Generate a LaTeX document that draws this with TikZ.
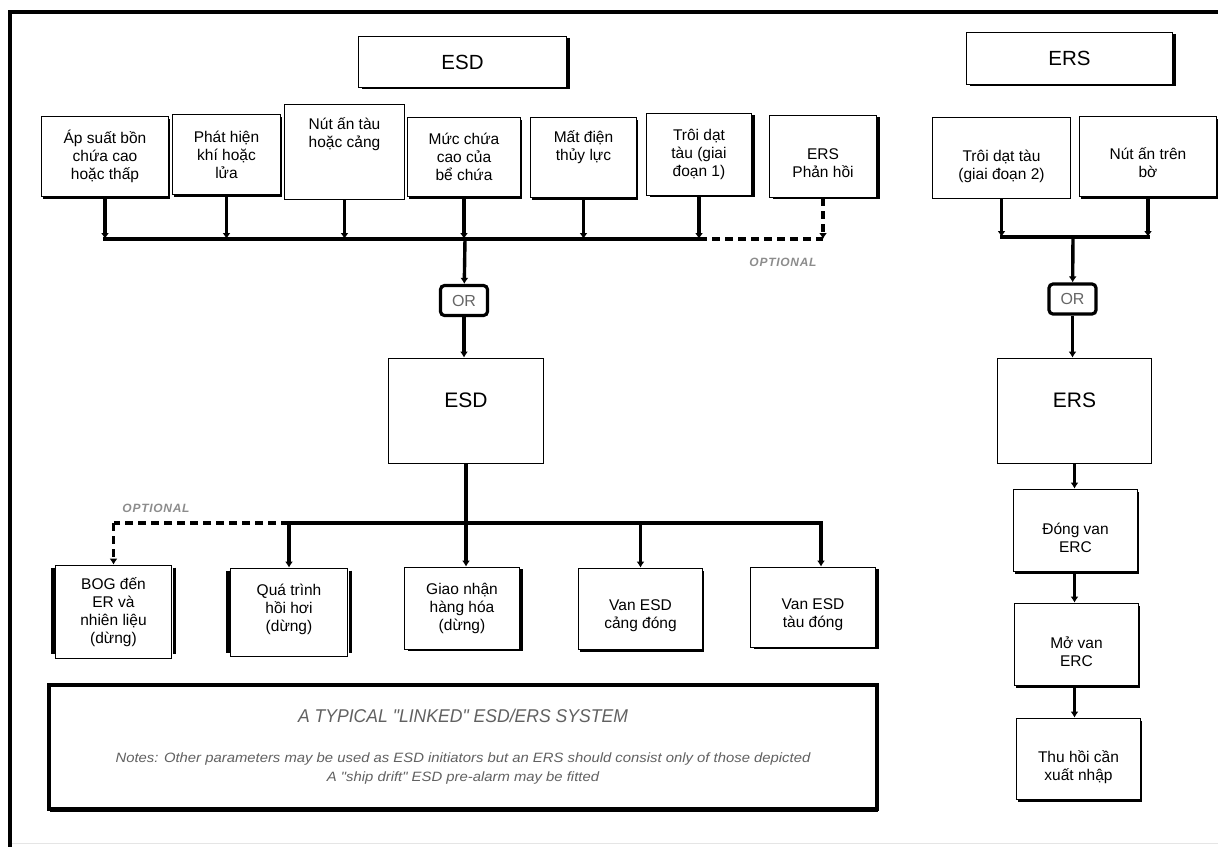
\documentclass[tikz,border=0pt]{standalone}
\usepackage{fontspec}
\setmainfont{Liberation Sans}
\usetikzlibrary{arrows.meta,shadows}
\newcommand\tb[4]{\parbox[c][#2pt][c]{#1pt}{\centering\vspace*{#3pt}#4\par}}
\tikzset{
  bx/.style={draw, line width=1.8pt, fill=white, inner sep=0pt, font=\fontsize{15.5}{18}\selectfont},
  big/.style={font=\fontsize{21}{25}\selectfont},
  shb/.style={drop shadow={shadow xshift=1.2pt, shadow yshift=-2.8pt, fill=black, opacity=1}},
  shr/.style={drop shadow={shadow xshift=3pt, shadow yshift=-1.6pt, fill=black, opacity=1}},
  ln/.style={line width=3.4pt, line cap=rect},
  tip/.style={-{Latex[length=6pt,width=8pt]}},
  arr/.style={line width=3.4pt, tip},
  dsh/.style={line width=3.4pt, dash pattern=on 8pt off 5pt},
  orb/.style={draw, line width=3.2pt, rounded corners=4pt, fill=white, inner sep=0pt,
    minimum width=47pt, minimum height=30pt, text=black!60, font=\fontsize{16}{16}\selectfont},
  opt/.style={text=black!45, font=\fontsize{12}{12}\selectfont\bfseries\itshape\addfontfeature{LetterSpace=6}},
  sidebar/.style={line width=3.2pt},
}
\begin{document}
\begin{tikzpicture}[x=1pt, y=-1pt]
\useasboundingbox (0,0) rectangle (1218,847);
% frame
\draw[line width=3.6pt] (1218,12) -- (10,12) -- (10,847);
\draw[black!10, line width=1pt] (12,843) -- (1218,843);

% titles
\node[bx, shr, big] (tesd) at (462.5,62) {\tb{208}{51}{0}{\fontsize{20.5}{24}\selectfont ESD}};
\node[bx, shr, big] (ters) at (1069.5,58.5) {\tb{206}{52}{0}{\fontsize{20.5}{24}\selectfont ERS}};

% ESD initiators
\node[bx, shb] (a1) at (105,156.5) {\tb{127}{80}{0}{Áp suất bồn\\chứa cao\\hoặc thấp}};
\node[bx, shb] (a2) at (226.5,154.5) {\tb{108}{80}{0}{Phát hiện\\khí hoặc\\lửa}};
\node[bx] (a3) at (344.5,152) {\tb{120}{95}{-36}{Nút ấn tàu\\hoặc cảng}};
\node[bx, shb] (a4) at (464,157) {\tb{113}{79}{0}{Mức chứa\\cao của\\bể chứa}};
\node[bx, shb] (a5) at (583.5,157.5) {\tb{106}{80}{-20}{Mất điện\\thủy lực}};
\node[bx, shr] (a6) at (699,154.5) {\tb{105}{82}{0}{Trôi dạt\\tàu (giai\\đoạn 1)}};
\node[bx, shr] (a7) at (823,156.5) {\tb{107}{82}{14}{ERS\\Phản hồi}};

% ERS initiators
\node[bx] (r1) at (1001.5,158) {\tb{138}{81}{16}{Trôi dạt tàu\\(giai đoạn 2)}};
\node[bx, shb] (r2) at (1148,156.5) {\tb{137}{80}{12}{Nút ấn trên\\bờ}};

% OR gates
\node[orb] (or1) at (464,300.5) {OR};
\node[orb] (or2) at (1072.5,299) {OR};

% main boxes
\node[bx, big] (esd) at (466,411) {\tb{155}{105}{-22}{ESD}};
\node[bx, big] (ers) at (1074.5,411) {\tb{154}{105}{-22}{ERS}};

% ERS actions
\node[bx, shb] (e1) at (1075.5,530.5) {\tb{124}{82}{14}{Đóng van\\ERC}};
\node[bx, shb] (e2) at (1076.5,644.5) {\tb{124}{82}{14}{Mở van\\ERC}};
\node[bx, shb] (e3) at (1078.5,759) {\tb{124}{81}{16}{Thu hồi cần\\xuất nhập}};

% ESD actions
\node[bx] (b1) at (113.5,612) {\tb{116}{93}{0}{BOG đến\\ER và\\nhiên liệu\\(dừng)}};
\node[bx] (b2) at (289,612.5) {\tb{117}{88}{-6}{Quá trình\\hồi hơi\\(dừng)}};
\node[bx, shr] (b3) at (462,608.5) {\tb{115}{82}{0}{Giao nhận\\hàng hóa\\(dừng)}};
\node[bx, shb] (b4) at (640.5,609) {\tb{124}{81}{14}{Van ESD\\cảng đóng}};
\node[bx, shr] (b5) at (813,607.5) {\tb{125}{80}{14}{Van ESD\\tàu đóng}};

\draw[sidebar] ([xshift=-1.6pt,yshift=-3pt]b1.north west) -- ([xshift=-1.6pt,yshift=5pt]b1.south west);
\draw[sidebar] ([xshift=1.8pt,yshift=-3pt]b1.north east) -- ([xshift=1.8pt,yshift=5pt]b1.south east);
\draw[sidebar] ([xshift=-1.6pt,yshift=-3pt]b2.north west) -- ([xshift=-1.6pt,yshift=4pt]b2.south west);
\draw[sidebar] ([xshift=1.8pt,yshift=-3pt]b2.north east) -- ([xshift=1.8pt,yshift=4pt]b2.south east);

% notes
\node[draw, line width=3.2pt, shb, fill=white, minimum width=828pt, minimum height=124pt,
  align=center, inner sep=0pt, text=black!62,
  font=\fontsize{13.5}{19}\selectfont\itshape\addfontfeature{Ligatures=TeXOff,FakeStretch=1.1}] (nt) at (463,747)
  {{\fontsize{18.5}{19}\selectfont\addfontfeature{FakeStretch=0.95}A TYPICAL "LINKED" ESD/ERS SYSTEM}\\[21pt]
   Notes: Other parameters may be used as ESD initiators but an ERS should consist only of those depicted\\
   A "ship drift" ESD pre-alarm may be fitted};

% top bus (ESD)
\coordinate (bt) at (465,239);
\draw[ln] (a1.south |- bt) -- (a6.south |- bt);
\draw[dsh] (a6.south |- bt) -- (a7.south |- bt);
\foreach \n in {a1,a2,a3,a4,a5,a6} \draw[arr] (\n.south) -- (\n.south |- bt);
\draw[dsh, tip] (a7.south) -- (a7.south |- bt);
\node[opt] (o1) at (783,262) {OPTIONAL};
\draw[arr] (bt) -- (or1);
\draw[arr] (or1) -- (or1 |- esd.north);

% bottom bus (ESD)
\coordinate (bb) at (466,523);
\coordinate (b5t) at ([xshift=8pt]b5.north);
\draw[ln] (b2.north |- bb) -- (b5t |- bb);
\draw[dsh] (b2.north |- bb) -- (b1.north |- bb);
\draw[dsh, tip] (b1.north |- bb) -- (b1.north);
\node[opt] (o2) at (156,508) {OPTIONAL};
\draw[arr] (esd.south) -- (esd.south |- b3.north);
\draw[arr] (b2.north |- bb) -- (b2.north);
\draw[arr] (b4.north |- bb) -- (b4.north);
\draw[arr] (b5t |- bb) -- (b5t);

% ERS chain
\coordinate (rb) at (1073,237);
\draw[ln] (r1.south |- rb) -- (r2.south |- rb);
\draw[arr] (r1.south) -- (r1.south |- rb);
\draw[arr] (r2.south) -- (r2.south |- rb);
\draw[arr] (rb) -- (or2);
\draw[arr] (or2) -- (or2 |- ers.north);
\draw[arr] (ers.south) -- (ers.south |- e1.north);
\draw[arr] (ers.south |- e1.south) -- (ers.south |- e2.north);
\draw[arr] (ers.south |- e2.south) -- (ers.south |- e3.north);
\end{tikzpicture}
\end{document}
